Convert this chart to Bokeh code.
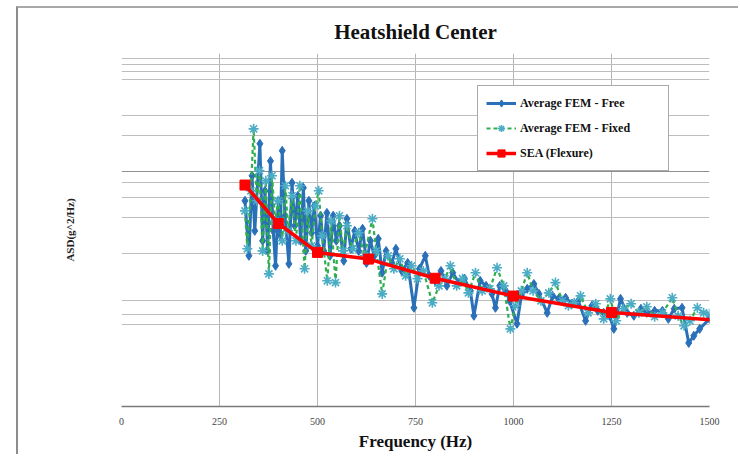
from bokeh.plotting import figure
from bokeh.models import Range1d, FixedTicker, Legend, LegendItem, Grid
from bokeh.embed import file_html
from bokeh.resources import INLINE

# ---------------- data ----------------
x_ticks = [0, 250, 500, 750, 1000, 1250, 1500]
x_grid = [250, 500, 750, 1000, 1250, 1500]
y_grid_light = [5e-5, 6e-5, 8e-5, 2e-4, 4e-4, 6e-4, 8e-4, 2e-3, 3e-3, 6e-3, 7e-3, 8e-3, 9e-3]
y_grid_dark = [1e-3, 1e-2]

free_f = [315, 325, 333, 340, 353, 360, 366, 373, 380, 387, 393, 400, 405, 410, 417, 427,
          435, 442, 450, 457, 464, 470, 478, 485, 492, 500, 508, 516, 524, 532, 540, 548,
          556, 567, 575, 585, 595, 605, 615, 625, 635, 645, 655, 665, 675, 690, 700, 715,
          730, 746, 760, 775, 785, 800, 815, 830, 845, 860, 875, 890, 899, 915, 930, 945,
          954, 965, 980, 990, 1009, 1020, 1035, 1052, 1065, 1086, 1100, 1115, 1133, 1150,
          1165, 1184, 1200, 1215, 1230, 1245, 1256, 1273, 1290, 1307, 1325, 1340, 1360,
          1380, 1395, 1410, 1430, 1447, 1460, 1475, 1500]
free_v = [5.60e-4, 1.91e-4, 9.14e-4, 3.11e-4, 1.71e-3, 2.56e-4, 6.81e-4, 2.10e-4, 1.22e-3,
          3.11e-4, 1.57e-4, 5.60e-4, 2.82e-4, 1.49e-3, 4.18e-4, 1.63e-4,
          7.96e-4, 3.44e-4, 6.18e-4, 2.56e-4, 7.23e-4, 2.10e-4, 5.60e-4, 2.99e-4, 5.08e-4,
          2.32e-4, 4.18e-4, 2.10e-4, 4.42e-4, 1.91e-4, 4.18e-4, 2.56e-4,
          3.44e-4, 1.73e-4, 3.94e-4, 2.19e-4, 3.11e-4, 2.10e-4, 3.24e-4, 1.66e-4, 2.56e-4,
          1.91e-4, 2.66e-4, 1.37e-4, 2.10e-4, 1.66e-4, 2.19e-4, 1.42e-4,
          1.66e-4, 6.90e-5, 1.48e-4, 1.91e-4, 1.29e-4, 1.17e-4, 1.42e-4, 1.06e-4, 1.37e-4,
          1.13e-4, 1.22e-4, 9.61e-5, 5.90e-5, 1.17e-4, 1.06e-4, 9.06e-5,
          6.90e-5, 1.06e-4, 9.61e-5, 7.91e-5, 5.05e-5, 8.72e-5, 1.00e-4, 1.10e-4, 9.06e-5,
          6.25e-5, 8.72e-5, 8.22e-5, 8.39e-5, 7.46e-5,
          7.91e-5, 5.35e-5, 7.18e-5, 6.50e-5, 6.25e-5, 5.90e-5, 4.57e-5, 8.22e-5, 6.25e-5,
          5.90e-5, 6.77e-5, 6.25e-5, 6.50e-5,
          6.50e-5, 5.56e-5, 6.77e-5, 6.90e-5, 3.47e-5, 3.99e-5, 4.57e-5, 5.56e-5]

fixed_f = [315, 321, 330, 337, 345, 352, 360, 368, 376, 384, 392, 400, 410, 418, 425, 435,
           445, 455, 467, 475, 485, 495, 503, 512, 525, 535, 546, 556, 565, 575, 590, 605,
           620, 640, 650, 665, 680, 695, 710, 725, 740, 755, 770, 793, 810, 825, 839, 855,
           870, 885, 903, 920, 940, 958, 975, 992, 1005, 1020, 1035, 1050, 1070, 1090, 1107,
           1125, 1140, 1155, 1171, 1190, 1210, 1230, 1247, 1262, 1280, 1300, 1320, 1340,
           1360, 1380, 1405, 1420, 1435, 1450, 1469, 1485, 1500]
fixed_v = [4.60e-4, 2.19e-4, 6.81e-4, 2.29e-3, 5.60e-4, 1.01e-3, 2.10e-4, 8.28e-4, 1.34e-4,
           9.14e-4, 3.78e-4, 5.60e-4, 2.56e-4, 7.52e-4, 3.11e-4, 6.18e-4,
           2.56e-4, 7.52e-4, 1.48e-4, 4.60e-4, 2.32e-4, 5.08e-4, 6.81e-4, 2.82e-4, 1.17e-4,
           3.78e-4, 1.13e-4, 4.18e-4, 2.10e-4, 3.44e-4, 2.19e-4, 2.99e-4,
           1.91e-4, 3.94e-4, 2.10e-4, 9.06e-5, 1.91e-4, 1.48e-4, 1.80e-4, 1.29e-4, 1.57e-4,
           1.22e-4, 1.42e-4, 7.61e-5, 1.06e-4, 1.22e-4, 1.57e-4, 1.06e-4,
           1.22e-4, 9.24e-5, 1.37e-4, 9.61e-5, 1.00e-4, 1.51e-4, 1.06e-4, 4.57e-5, 7.18e-5,
           9.61e-5, 1.37e-4, 9.61e-5, 7.91e-5, 9.24e-5, 1.13e-4,
           7.91e-5, 7.18e-5, 7.61e-5, 8.72e-5, 6.25e-5, 7.46e-5, 5.56e-5, 8.22e-5, 5.35e-5,
           6.77e-5, 7.46e-5, 6.25e-5, 7.04e-5,
           5.79e-5, 6.25e-5, 8.39e-5, 5.90e-5, 4.85e-5, 5.35e-5, 6.90e-5, 6.25e-5, 6.13e-5]

sea_f = [315, 400, 500, 630, 800, 1000, 1250, 1600]
sea_v = [7.62e-4, 3.59e-4, 2.04e-4, 1.79e-4, 1.23e-4, 8.68e-5, 6.30e-5, 5.16e-5]

labels = ["Average FEM - Free", "Average FEM - Fixed", "SEA (Flexure)"]

# ---------------- styles ----------------
SERIF = "Liberation Serif"
BLUE = "#2a70b8"
GREEN = "#2fae4e"
TEAL = "#4bacc6"
RED = "#ff0000"

p = figure(width=722, height=448, x_range=Range1d(0, 1500), y_range=Range1d(1e-5, 1e-2),
           y_axis_type="log", output_backend="svg", toolbar_location=None,
           title="Heatshield Center",
           min_border_left=103, min_border_right=31, min_border_top=45, min_border_bottom=50,
           margin=(6, 0, 0, 16),
           styles={"border-top": "2px solid #a8a8a8", "border-left": "2px solid #8c8c8c"})
p.outline_line_color = None
p.background_fill_color = "white"
p.border_fill_color = "white"

p.title.text_font = SERIF
p.title.text_font_size = "21px"
p.title.text_font_style = "bold"
p.title.align = "center"
p.title.standoff = 19
p.title.text_color = "#111111"

# x axis
p.xaxis.ticker = FixedTicker(ticks=x_ticks)
p.xaxis.axis_line_color = "#7a7a7a"
p.xaxis.axis_line_width = 1.5
p.xaxis.major_tick_line_color = None
p.xaxis.minor_tick_line_color = None
p.xaxis.major_tick_out = 0
p.xaxis.major_label_standoff = 11
p.xaxis.major_label_text_font = SERIF
p.xaxis.major_label_text_font_size = "10px"
p.xaxis.major_label_text_color = "#444444"
p.xaxis.axis_label = "Frequency (Hz)"
p.xaxis.axis_label_text_font = SERIF
p.xaxis.axis_label_text_font_size = "17px"
p.xaxis.axis_label_text_font_style = "bold"
p.xaxis.axis_label_text_color = "#111111"
p.xaxis.axis_label_standoff = 4

# y axis (no tick labels, only title)
p.yaxis.ticker = FixedTicker(ticks=[])
p.yaxis.axis_line_color = None
p.yaxis.major_tick_line_color = None
p.yaxis.minor_tick_line_color = None
p.yaxis.major_tick_out = 0
p.yaxis.axis_label = "ASD(g^2/Hz)"
p.yaxis.axis_label_text_font = SERIF
p.yaxis.axis_label_text_font_size = "11px"
p.yaxis.axis_label_text_font_style = "bold"
p.yaxis.axis_label_text_color = "#222222"
p.yaxis.axis_label_standoff = 46

# grids
p.xgrid.ticker = FixedTicker(ticks=x_grid)
p.xgrid.grid_line_color = "#b5b5b5"
p.xgrid.grid_line_width = 1
p.ygrid.ticker = FixedTicker(ticks=y_grid_light)
p.ygrid.grid_line_color = "#bdbdbd"
p.ygrid.grid_line_width = 1
dark = Grid(dimension=1, ticker=FixedTicker(ticks=y_grid_dark),
            grid_line_color="#8f8f8f", grid_line_width=1.2)
p.add_layout(dark)

# series
r_free_l = p.line(free_f, free_v, line_color=BLUE, line_width=3)
r_free_m = p.scatter(free_f, free_v, marker="diamond", size=9, fill_color=BLUE, line_color=BLUE)
r_fix_l = p.line(fixed_f, fixed_v, line_color=GREEN, line_width=2.2, line_dash="4 3")
r_fix_m = p.scatter(fixed_f, fixed_v, marker="asterisk", size=10, line_color=TEAL, line_width=1.6)
r_sea_l = p.line(sea_f, sea_v, line_color=RED, line_width=3.5)
r_sea_m = p.scatter(sea_f, sea_v, marker="square", size=10, fill_color=RED, line_color=RED)

legend = Legend(items=[
    LegendItem(label=labels[0], renderers=[r_free_l, r_free_m]),
    LegendItem(label=labels[1], renderers=[r_fix_l, r_fix_m]),
    LegendItem(label=labels[2], renderers=[r_sea_l, r_sea_m]),
], location=(356, 235))
legend.border_line_color = "#555555"
legend.border_line_width = 1
legend.background_fill_color = "white"
legend.background_fill_alpha = 1
legend.label_text_font = SERIF
legend.label_text_font_style = "bold"
legend.label_text_font_size = "12px"
legend.label_text_color = "#111111"
legend.glyph_width = 30
legend.glyph_height = 18
legend.label_height = 18
legend.label_width = 140
legend.label_standoff = 4
legend.spacing = 7
legend.padding = 8
legend.margin = 0
p.add_layout(legend)

open("out.html", "w").write(file_html(p, INLINE))
